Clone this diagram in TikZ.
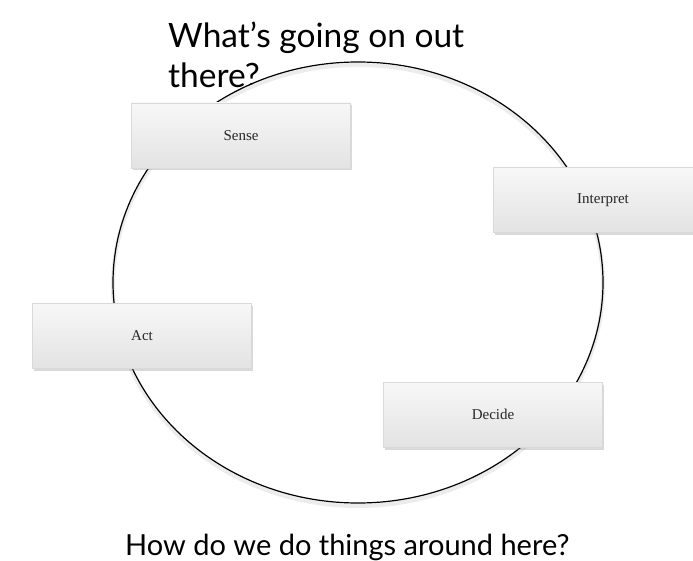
\documentclass[tikz,border=0pt]{standalone}
\usepackage{fontspec}
\setmainfont{Liberation Serif}
\newfontfamily\promptfont{Lato}
\usetikzlibrary{shadows}

\tikzset{
  phasebox/.style={draw=gray!30, top color=gray!6, bottom color=gray!22,
    minimum width=219pt, minimum height=65pt, inner sep=0pt,
    font=\fontsize{15}{17}\selectfont, text=black!85,
    drop shadow={shadow xshift=1pt, shadow yshift=-2.5pt, opacity=0.3}},
  prompt/.style={font=\promptfont\fontsize{29}{40}\selectfont, inner sep=0pt}
}

\begin{document}
\begin{tikzpicture}[x=1pt,y=-1pt]
\useasboundingbox (0,0) rectangle (693,561);

% question at the top, sits under the loop
\node[prompt, font=\promptfont\fontsize{33.5}{40}\selectfont, anchor=base west, align=left] (outthere) at (168,88) {What’s going on out\\there?};

% the loop
\draw[gray!15, line width=4pt] (358,285.5) ellipse [x radius=245, y radius=220.5];
\draw[black, line width=1.2pt] (358,282.5) ellipse [x radius=245, y radius=220.5];

% the four steps
\node[phasebox] (sense) at (241,135.5) {Sense};
\node[phasebox] (interpret) at (603,200) {Interpret};
\node[phasebox] (act) at (142,335.5) {Act};
\node[phasebox] (decide) at (493,414.5) {Decide};

\node[prompt, anchor=base west] (aroundhere) at (125,555) {How do we do things around here?};
\end{tikzpicture}
\end{document}
